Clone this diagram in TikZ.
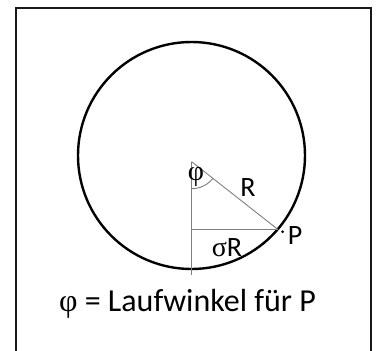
\documentclass[tikz,border=0pt]{standalone}
\usepackage{fontspec}
\setmainfont{Carlito}
\newfontfamily\grk{Liberation Serif}
\begin{document}
\begin{tikzpicture}[x=1pt,y=-1pt,
  thinline/.style={draw=black!50,line width=0.9pt},
  lbl/.style={inner sep=0pt,font=\fontsize{28}{32}\selectfont}]
\useasboundingbox (0,0) rectangle (376,351);
\fill[white] (0,0) rectangle (376,351);
\draw[line width=2pt,black!90] (16,351) -- (16,8) -- (371,8) -- (371,351);
\coordinate (M) at (191.5,155.5);
\draw[line width=2.4pt] (M) circle[radius=113.5];
\coordinate (C) at (191.7,161.7);
\coordinate (B) at (191.7,275);
\coordinate (Q) at (191.7,229.3);
\coordinate (Pt) at (277.7,229.3);
\draw[thinline] (C) -- (B);
\draw[thinline] (Q) -- (Pt);
\draw[thinline] (C) -- (Pt);
\draw[thinline] (C) ++(0,27) arc[start angle=90,end angle=38.2,radius=27];
\fill (282.7,231.7) circle[radius=1.5];
\node[lbl] (phi) at (196,177) {\grk φ};
\node[lbl] (r) at (248,188) {R};
\node[lbl] (p) at (295,236) {P};
\node[lbl] (sr) at (227,247.5) {{\grk σ}R};
\node[inner sep=0pt,anchor=base,font=\fontsize{32}{36}\selectfont] (cap) at (187.5,311.7) {{\grk φ} = Laufwinkel für P};
\end{tikzpicture}
\end{document}
